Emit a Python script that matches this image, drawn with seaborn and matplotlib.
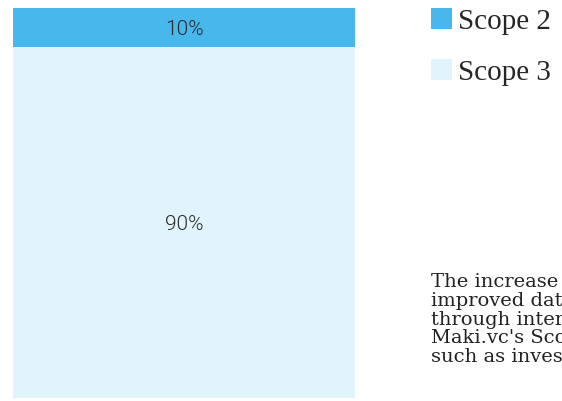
import matplotlib
matplotlib.use("Agg")
import matplotlib.pyplot as plt
import matplotlib.transforms as mtransforms
import seaborn as sns
import pandas as pd
from matplotlib.patches import Patch

categories = ["Scope 2", "Scope 3"]
values = [10, 90]
colors = ["#47B7EC", "#E1F4FC"]
labels = ["10%", "90%"]
note_lines = [
    "The increase in Scope 3 emissions reflects",
    "improved data collection and reporting",
    "through internal tracking of all of",
    "Maki.vc's Scope 3 categories,",
    "such as investments and travel.",
]

sns.set_theme(style="white")
fig = plt.figure(figsize=(5.62, 4.01), dpi=100)
ax = fig.add_axes([13/562, 3/401, 342/562, 390/401])

df = pd.DataFrame({"group": ["all", "all"], "scope": categories, "value": values})
# Stack: Scope 3 at bottom, Scope 2 on top
bottom = 0
order = [1, 0]
for i in order:
    sub = df.iloc[[i]]
    sns.barplot(data=sub, x="group", y="value", color=colors[i], width=1.0,
                bottom=bottom, ax=ax, saturation=1, linewidth=0)
    bottom += values[i]
offset = mtransforms.offset_copy(ax.transData, fig=fig, x=0, y=-2, units="dots")
bottom = 0
for i in order:
    ax.text(0, bottom + values[i] / 2, labels[i], ha="center", va="center",
            fontsize=15, color="#2b2b2b", family="Roboto", fontweight=300,
            zorder=5, transform=offset)
    bottom += values[i]

ax.set_xlim(-0.5, 0.5)
ax.set_ylim(0, 100)
ax.axis("off")

handles = [Patch(facecolor=colors[k], edgecolor="none") for k in range(2)]
fig.legend(handles, categories, loc="upper left", bbox_to_anchor=(431/562, 1 - 8/401),
           frameon=False, prop={"family": "Liberation Serif", "size": 21},
           handlelength=0.72, handleheight=0.72, handletextpad=0.2,
           labelspacing=0.85, borderpad=0, borderaxespad=0)

baselines = [287, 306, 325, 343, 362]
for line, yb in zip(note_lines, baselines):
    fig.text(431/562, 1 - yb/401, line, ha="left", va="baseline",
             family="DejaVu Serif", fontsize=14, color="#222222")

fig.savefig("out.png", dpi=100)
